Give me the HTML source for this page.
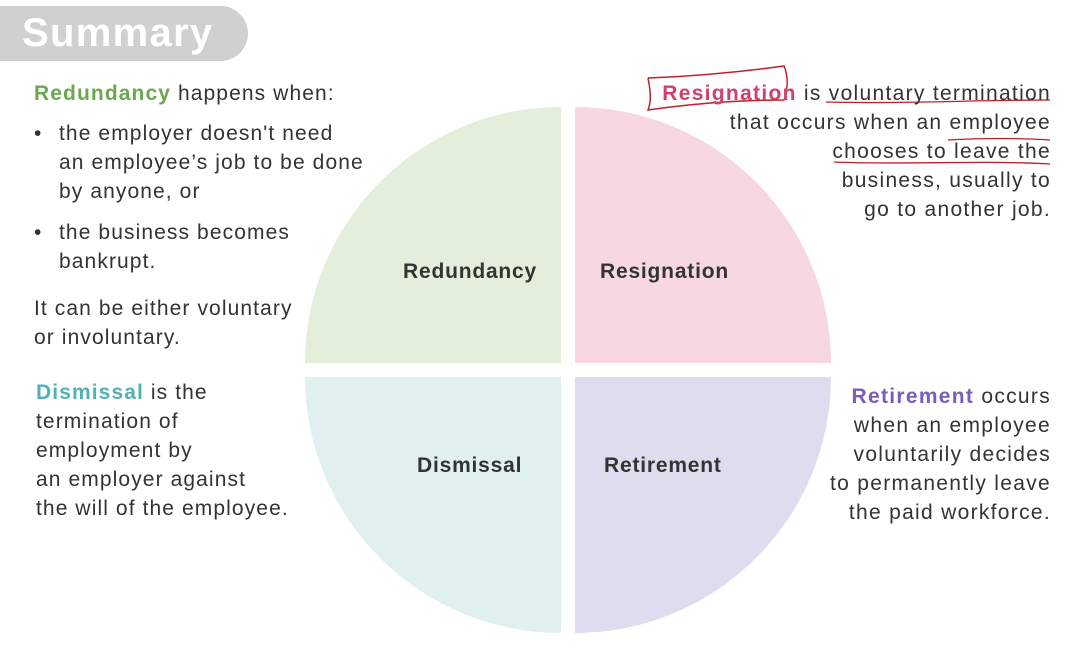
<!DOCTYPE html>
<html><head><style>
body{margin:0;width:1066px;height:660px;background:#fff;position:relative;overflow:hidden;font-family:"Liberation Sans",sans-serif;color:#333;}
.t{position:absolute;font-size:21px;line-height:29px;white-space:nowrap;letter-spacing:1.1px;}
.r{text-align:right;}
b{font-weight:bold;}
.lab{position:absolute;font-size:21px;font-weight:bold;color:#333;letter-spacing:0.8px;}
</style></head><body>
<div style="position:absolute;left:0;top:6px;width:248px;height:55px;background:#d0d0d0;border-radius:0 28px 28px 0;"></div>
<div style="position:absolute;left:22px;top:9px;font-size:40px;font-weight:bold;color:#fff;line-height:48px;letter-spacing:1.3px;">Summary</div>
<svg style="position:absolute;left:0;top:0" width="1066" height="660">
<path d="M561,363 L561,107 A256,256 0 0 0 305,363 Z" fill="#e3eedb"/>
<path d="M575,363 L575,107 A256,256 0 0 1 831,363 Z" fill="#f7d8e0"/>
<path d="M561,377 L305,377 A256,256 0 0 0 561,633 Z" fill="#e0f0ef"/>
<path d="M575,377 L831,377 A256,256 0 0 1 575,633 Z" fill="#e0dcef"/>
<path d="M648,78 C700,76 740,72 784,66 C790,80 786,95 784,100 C740,100 690,104 648,110 C652,100 650,88 648,78" fill="none" stroke="#c0202a" stroke-width="1.5"/>
<path d="M826,102 C900,104 980,100 1050,100" fill="none" stroke="#c0202a" stroke-width="1.3"/>
<path d="M834,162 C900,165 980,160 1050,164" fill="none" stroke="#c0202a" stroke-width="1.3"/>
<path d="M948,140 C980,138 1020,138 1050,140" fill="none" stroke="#c0202a" stroke-width="1.3"/>
</svg>
<div class="lab" style="left:403px;top:260px">Redundancy</div>
<div class="lab" style="left:600px;top:260px">Resignation</div>
<div class="lab" style="left:417px;top:454px">Dismissal</div>
<div class="lab" style="left:604px;top:454px">Retirement</div>
<div class="t" style="left:34px;top:79px"><b style="color:#6aa84f">Redundancy</b> happens when:</div>
<div class="t" style="left:34px;top:119px">•</div>
<div class="t" style="left:59px;top:119px">the employer doesn't need<br>an employee’s job to be done<br>by anyone, or</div>
<div class="t" style="left:34px;top:218px">•</div>
<div class="t" style="left:59px;top:218px">the business becomes<br>bankrupt.</div>
<div class="t" style="left:34px;top:294px">It can be either voluntary<br>or involuntary.</div>
<div class="t" style="left:36px;top:378px"><b style="color:#4fb3b5">Dismissal</b> is the<br>termination of<br>employment by<br>an employer against<br>the will of the employee.</div>
<div class="t r" style="right:15px;top:79px;letter-spacing:1.3px"><b style="color:#d0406a">Resignation</b> is voluntary termination<br>that occurs when an employee<br>chooses to leave the<br>business, usually to<br>go to another job.</div>
<div class="t r" style="right:15px;top:382px;letter-spacing:1.3px"><b style="color:#7b5cb8">Retirement</b> occurs<br>when an employee<br>voluntarily decides<br>to permanently leave<br>the paid workforce.</div>
</body></html>
